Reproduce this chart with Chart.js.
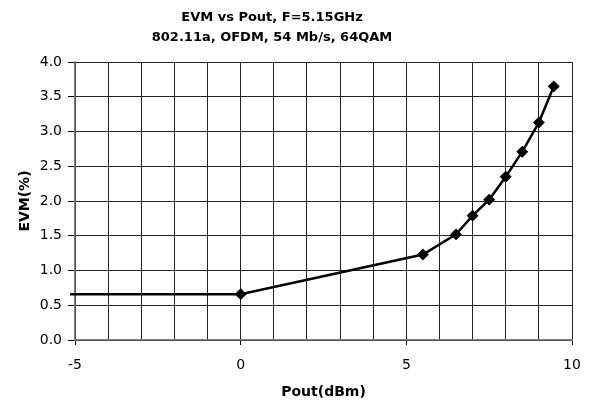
<!DOCTYPE html>
<html>
<head>
<meta charset="utf-8">
<script src="https://cdn.jsdelivr.net/npm/chart.js@4"></script>
<style>
html,body{margin:0;padding:0;background:#fff;}
#wrap{width:591px;height:404px;}
</style>
</head>
<body>
<div id="wrap"><canvas id="c" width="591" height="404"></canvas></div>
<script>
const titleLines = ['EVM vs Pout, F=5.15GHz', '802.11a, OFDM, 54 Mb/s, 64QAM'];
const xTitle = 'Pout(dBm)';
const yTitle = 'EVM(%)';
const poutValues = [-5.15, 0, 5.5, 6.5, 7, 7.5, 8, 8.5, 9, 9.45];
const evmValues = [0.66, 0.66, 1.23, 1.52, 1.79, 2.02, 2.35, 2.71, 3.13, 3.65];
const markerShown = [false, true, true, true, true, true, true, true, true, true];
const xMin = -5, xMax = 10, xStep = 1, xLabelEvery = 5;
const yMin = 0, yMax = 4, yStep = 0.5;

const FONT = "'DejaVu Sans', 'Liberation Sans', Arial, sans-serif";
const points = poutValues.map((x, i) => ({x: x, y: evmValues[i]}));

// shift the title's box so that it is centred where the reference centres it
const titleShift = {
  id: 'titleShift',
  afterLayout(chart) {
    if (chart.titleBlock) { chart.titleBlock.left = -28; }
  }
};

new Chart(document.getElementById('c'), {
  type: 'scatter',
  data: {
    datasets: [{
      data: points,
      showLine: true,
      borderColor: '#000',
      borderWidth: 2.5,
      backgroundColor: '#000',
      pointStyle: 'rectRot',
      pointRadius: markerShown.map(s => s ? 4.2 : 0),
      pointHoverRadius: 0,
      clip: false,
      tension: 0
    }]
  },
  plugins: [titleShift],
  options: {
    responsive: false,
    animation: false,
    devicePixelRatio: 1,
    layout: {padding: {left: 0, right: 19, top: 0, bottom: 3}},
    plugins: {
      legend: {display: false},
      tooltip: {enabled: false},
      title: {
        display: true,
        text: titleLines,
        color: '#000',
        font: {family: FONT, size: 13, weight: 'bold', lineHeight: 1.58},
        padding: {top: 7, bottom: 14}
      }
    },
    scales: {
      x: {
        type: 'linear',
        min: xMin, max: xMax,
        afterFit: s => { s.height = 61; s.paddingRight = 0; s.paddingLeft = 0; },
        ticks: {
          stepSize: xStep,
          autoSkip: false,
          maxRotation: 0,
          color: '#000',
          font: {family: FONT, size: 14},
          padding: 12,
          callback: v => (v % xLabelEvery === 0 ? String(v) : '')
        },
        grid: {
          color: '#222',
          lineWidth: 1,
          tickLength: 5,
          tickColor: c => (c.tick && c.tick.value % xLabelEvery === 0 ? '#000' : 'rgba(0,0,0,0)')
        },
        border: {color: '#808080', width: 1.5},
        title: {
          display: true, text: xTitle, color: '#000',
          font: {family: FONT, size: 14, weight: 'bold'},
          padding: {top: 4, bottom: 0}
        }
      },
      y: {
        type: 'linear',
        min: yMin, max: yMax,
        afterFit: s => { s.width = 75; },
        ticks: {
          stepSize: yStep,
          color: '#000',
          font: {family: FONT, size: 14},
          padding: 6,
          callback: v => v.toFixed(1)
        },
        grid: {color: '#222', lineWidth: 1, tickLength: 7, tickColor: '#000'},
        border: {color: '#808080', width: 1.5},
        title: {
          display: true, text: yTitle, color: '#000',
          font: {family: FONT, size: 14, weight: 'bold'},
          padding: {top: 17, bottom: 0}
        }
      }
    }
  }
});
</script>
</body>
</html>
